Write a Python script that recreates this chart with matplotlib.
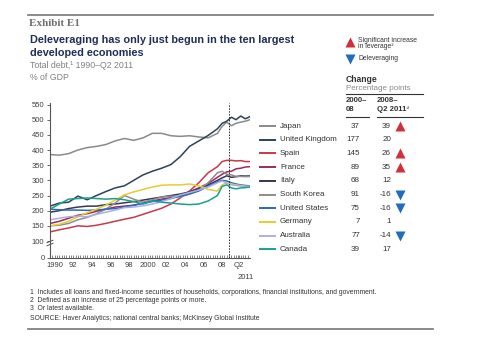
import matplotlib
matplotlib.use("Agg")
import matplotlib.pyplot as plt
import numpy as np

plt.rcParams['font.family'] = ['Liberation Sans', 'DejaVu Sans']

# time grid: yearly to 2008, then half-yearly to Q2 2011
years = list(range(1990, 2009)) + [2008.5, 2009, 2009.5, 2010, 2010.5, 2011, 2011.5]

countries = ["Japan", "United Kingdom", "Spain", "France", "Italy",
             "South Korea", "United States", "Germany", "Australia", "Canada"]
colors = ["#8a8a8a", "#2c4256", "#c8384a", "#a0285a", "#3a3550",
          "#8d8d8d", "#2a6ab8", "#e6cc30", "#a9b0e8", "#1a9f8f"]

japan = [385, 383, 388, 400, 408, 412, 418, 430, 438, 432, 440, 455, 455, 447, 445, 447, 443, 440, 455,
         478, 492, 480, 488, 492, 495, 500]
uk = [215, 225, 228, 248, 236, 250, 263, 275, 282, 300, 318, 330, 340, 352, 378, 412, 430, 448, 470,
      488, 495, 508, 500, 512, 503, 510]
spain = [130, 137, 143, 150, 148, 152, 158, 165, 172, 178, 188, 198, 208, 222, 242, 265, 292, 325, 345,
         362, 366, 366, 364, 365, 362, 362]
france = [158, 165, 175, 185, 190, 198, 205, 212, 215, 218, 225, 232, 238, 243, 250, 262, 275, 290, 310,
          320, 328, 330, 338, 340, 344, 345]
italy = [195, 200, 207, 212, 215, 215, 220, 222, 226, 230, 235, 240, 245, 250, 255, 262, 272, 285, 300,
         308, 315, 310, 312, 315, 314, 315]
korea = [150, 152, 158, 170, 178, 190, 205, 225, 250, 238, 228, 236, 245, 248, 245, 255, 268, 292, 325,
         330, 320, 318, 313, 313, 312, 313]
us = [205, 203, 202, 202, 201, 202, 205, 207, 212, 218, 224, 230, 235, 240, 248, 255, 265, 280, 295,
      300, 298, 292, 288, 285, 283, 282]
germany = [150, 155, 165, 180, 193, 205, 218, 235, 252, 262, 270, 278, 284, 285, 285, 288, 282, 270, 265,
           285, 292, 288, 285, 283, 280, 280]
australia = [170, 175, 180, 182, 180, 188, 195, 202, 210, 212, 216, 222, 230, 240, 252, 260, 268, 278, 292,
             298, 290, 285, 283, 281, 280, 280]
canada = [205, 222, 238, 240, 242, 240, 238, 240, 236, 230, 222, 232, 228, 225, 222, 220, 222, 232, 250,
          280, 285, 275, 272, 275, 276, 278]
series = [japan, uk, spain, france, italy, korea, us, germany, australia, canada]

chg_00_08 = [37, 177, 145, 89, 68, 91, 75, 7, 77, 39]
chg_08_11 = [39, 20, 26, 35, 12, -16, -16, 1, -14, 17]
signal = ["up", None, "up", "up", None, "down", "down", None, "down", None]

xtick_labels = ["1990", "92", "94", "96", "98", "2000", "02", "04", "06", "08"]
ytick_values = [100, 150, 200, 250, 300, 350, 400, 450, 500, 550]

footnotes = [
    "1  Includes all loans and fixed-income securities of households, corporations, financial institutions, and government.",
    "2  Defined as an increase of 25 percentage points or more.",
    "3  Or latest available.",
    "SOURCE: Haver Analytics; national central banks; McKinsey Global Institute",
]

W, H = 490, 362
fig = plt.figure(figsize=(W / 100, H / 100), dpi=100)

# overlay in pixel coords for header, table and notes
ov = fig.add_axes([0, 0, 1, 1])
ov.set_xlim(0, W)
ov.set_ylim(H, 0)
ov.axis('off')

txt = "#333333"
ov.plot([28, 433], [15, 15], color="#777777", lw=1.2)
ov.plot([28, 433], [329, 329], color="#777777", lw=1.2)
ov.text(29, 24, "Exhibit E1", family="Liberation Serif", fontweight="bold", fontsize=8,
        color="#707070", va="center")
ov.text(30, 40, "Deleveraging has only just begun in the ten largest",
        fontweight="bold", fontsize=7.85, color="#1f2f5a", va="center")
ov.text(30, 53, "developed economies",
        fontweight="bold", fontsize=7.85, color="#1f2f5a", va="center")
ov.text(30, 66, "Total debt,\u00b9 1990\u2013Q2 2011", fontsize=6.3, color="#808080", va="center")
ov.text(30, 77, "% of GDP", fontsize=6.3, color="#808080", va="center")

# top-right key
ov.plot([350], [41.5], marker="^", ms=6.5, color="#d32f3a", mec="none")
ov.text(358, 40.5, "Significant increase", fontsize=4.9, color=txt, va="center")
ov.text(358, 47, "in leverage\u00b2", fontsize=4.9, color=txt, va="center")
ov.plot([350], [59], marker="v", ms=6.5, color="#1f6cc0", mec="none")
ov.text(358, 59, "Deleveraging", fontsize=4.9, color=txt, va="center")

ov.text(346, 79, "Change", fontsize=6.2, fontweight="bold", color=txt, va="center")
ov.text(346, 88, "Percentage points", fontsize=5.8, color="#8a8a8a", va="center")
ov.plot([346, 423], [94, 94], color=txt, lw=0.8)
ov.text(346, 101, "2000\u2013", fontsize=5.6, fontweight="bold", color=txt, va="center")
ov.text(346, 109.5, "08", fontsize=5.6, fontweight="bold", color=txt, va="center")
ov.text(377, 101, "2008\u2013", fontsize=5.6, fontweight="bold", color=txt, va="center")
ov.text(377, 109.5, "Q2 2011\u00b3", fontsize=5.6, fontweight="bold", color=txt, va="center")
ov.plot([346, 369], [116.5, 116.5], color=txt, lw=0.8)
ov.plot([377, 423], [116.5, 116.5], color=txt, lw=0.8)

for i, name in enumerate(countries):
    y = 126 + i * 13.7
    ov.plot([260, 275], [y, y], color=colors[i], lw=1.4)
    ov.text(280, y, name, fontsize=5.8, color=txt, va="center")
    ov.text(360, y, str(chg_00_08[i]), fontsize=5.8, color=txt, va="center", ha="right")
    ov.text(391, y, str(chg_08_11[i]), fontsize=5.8, color=txt, va="center", ha="right")
    if signal[i] == "up":
        ov.plot([400], [y - 0.5], marker="^", ms=7, color="#d32f3a", mec="none")
    elif signal[i] == "down":
        ov.plot([400], [y], marker="v", ms=7, color="#1f6cc0", mec="none")

for i, note in enumerate(footnotes):
    ov.text(30, [292.3, 300.7, 308.7, 318.7][i], note, fontsize=4.85, color=txt, va="center")

# main chart
ax = fig.add_axes([50 / W, 1 - 257.7 / H, 200 / W, (257.7 - 103) / H])
for s, c in zip(series, colors):
    ax.plot(years, s, color=c, lw=1.1)

ax.set_xlim(1990, 2011.5)
ax.set_ylim(45, 555)
ax.axvline(2009.2, color="#222222", lw=0.7, ls=(0, (1.5, 1.5)))

ax.set_yticks([45] + ytick_values)
ax.set_yticklabels(["0"] + [str(v) for v in ytick_values])
ax.set_xticks([1990.5 + 2 * i for i in range(len(xtick_labels))] + [2010.3])
ax.set_xticklabels(xtick_labels + ["Q2"])
ax.set_xticks(np.arange(1990, 2011.5, 0.25), minor=True)
ax.tick_params(axis="y", direction="out", length=2, width=0.6, labelsize=5.5,
               labelcolor="#404040", pad=2, color="#555555")
ax.tick_params(axis="x", which="both", direction="in", length=2, width=0.5, labelsize=5.5,
               labelcolor="#404040", pad=3, color="#555555")
ax.text(2011.0, -0.125, "2011", transform=ax.get_xaxis_transform(), fontsize=5.5,
        color="#404040", ha="center", va="center")

for sp in ["top", "right"]:
    ax.spines[sp].set_visible(False)
for sp in ["left", "bottom"]:
    ax.spines[sp].set_color("#555555")
    ax.spines[sp].set_linewidth(0.8)

# axis break mark
for yb in [0.085, 0.105]:
    ax.plot([-0.015, 0.015], [yb - 0.008, yb + 0.008], transform=ax.transAxes,
            color="#555555", lw=0.7, clip_on=False)

fig.savefig("out.png", dpi=100, facecolor="white")
